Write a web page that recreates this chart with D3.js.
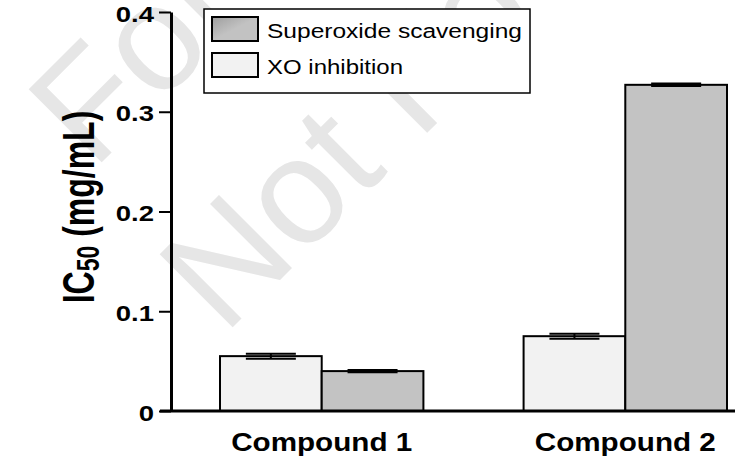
<!DOCTYPE html>
<html>
<head>
<meta charset="utf-8">
<script src="https://cdn.jsdelivr.net/npm/d3@7"></script>
<style>
  body { margin: 0; background: #fff; }
  svg { display: block; }
</style>
</head>
<body>
<svg id="chart" width="735" height="459"></svg>
<script>
// data
var categories = ["Compound 1", "Compound 2"];
var seriesNames = ["XO inhibition", "Superoxide scavenging"];
var xoValues = [0.055, 0.075];
var xoErrors = [0.0025, 0.0025];
var soValues = [0.040, 0.327];
var soErrors = [0.0012, 0.0012];
var yTicks = [0, 0.1, 0.2, 0.3, 0.4];
var legendOrder = ["Superoxide scavenging", "XO inhibition"];

var fills = { "XO inhibition": "#f2f2f2", "Superoxide scavenging": "#c3c3c3" };
var fontB = "'Liberation Sans', Arial, sans-serif";

var svg = d3.select("#chart");

var defs = svg.append("defs");
var grad = defs.append("linearGradient").attr("id", "swGrad")
  .attr("x1", 0).attr("y1", 0).attr("x2", 1).attr("y2", 1);
grad.append("stop").attr("offset", "0").attr("stop-color", "#9e9e9e");
grad.append("stop").attr("offset", "0.5").attr("stop-color", "#c2c2c2");

// watermark behind everything (cut by the picture edge, as in the reference)
var wm = svg.append("g").attr("class", "watermark")
  .style("font-family", fontB).style("font-size", "150px").attr("fill", "#e6e6e6");
wm.append("text").attr("transform", "translate(93,171) rotate(-45)").text("For");
wm.append("text").attr("transform", "translate(224,336) rotate(-45)").text("Not Fo");

var y = d3.scaleLinear().domain([0, 0.4]).range([411, 12]);

var x0 = d3.scaleBand().domain(categories).range([220, 727]).paddingInner(0.33).paddingOuter(0);
var x1 = d3.scaleBand().domain(seriesNames).range([0, x0.bandwidth()]);

// rows for bars
var rows = [];
categories.forEach(function(c, i){
  rows.push({ cat: c, name: "XO inhibition", value: xoValues[i], err: xoErrors[i] });
  rows.push({ cat: c, name: "Superoxide scavenging", value: soValues[i], err: soErrors[i] });
});

var bars = svg.append("g").attr("class", "bars");
bars.selectAll("rect").data(rows).enter().append("rect")
  .attr("x", function(d){ return x0(d.cat) + x1(d.name); })
  .attr("y", function(d){ return y(d.value); })
  .attr("width", x1.bandwidth())
  .attr("height", function(d){ return y(0) - y(d.value); })
  .attr("fill", function(d){ return fills[d.name]; })
  .attr("stroke", "#000").attr("stroke-width", 2);

// error bars
var capW = 50;
var errs = svg.append("g").attr("class", "errors").attr("stroke", "#000").attr("stroke-width", 2);
rows.forEach(function(d){
  var cx = x0(d.cat) + x1(d.name) + x1.bandwidth() / 2;
  var top = y(d.value + d.err), bot = y(d.value - d.err);
  errs.append("line").attr("x1", cx).attr("x2", cx).attr("y1", top).attr("y2", bot);
  [top, bot].forEach(function(yy){
    errs.append("line").attr("x1", cx - capW / 2).attr("x2", cx + capW / 2)
      .attr("y1", yy).attr("y2", yy);
  });
});

// y axis
var yAxis = d3.axisLeft(y).tickValues(yTicks).tickSize(12).tickSizeOuter(0).tickPadding(6)
  .tickFormat(function(d){ return d === 0 ? "0" : d3.format(".1f")(d); });
var gy = svg.append("g").attr("transform", "translate(171,0)").call(yAxis);
gy.select(".domain").attr("stroke", "#000").attr("stroke-width", 3);
gy.selectAll(".tick line").attr("stroke", "#000").attr("stroke-width", 2);
gy.selectAll(".tick text")
  .attr("x", 0).attr("dy", "9px")
  .attr("transform", "translate(-17,0) scale(1.25,1)")
  .style("font-family", fontB).style("font-weight", "bold").style("font-size", "22px")
  .attr("fill", "#000");

// baseline
svg.append("line").attr("x1", 160).attr("x2", 735).attr("y1", y(0)).attr("y2", y(0))
  .attr("stroke", "#000").attr("stroke-width", 3);

// category labels
svg.append("g").selectAll("text").data(categories).enter().append("text")
  .attr("x", function(d){ return x0(d) + x0.bandwidth() / 2; })
  .attr("y", 451)
  .attr("text-anchor", "middle")
  .attr("textLength", 181).attr("lengthAdjust", "spacingAndGlyphs")
  .style("font-family", fontB).style("font-weight", "bold").style("font-size", "26px")
  .text(function(d){ return d; });

// y label
var yl = svg.append("text")
  .attr("transform", "translate(94,207) rotate(-90) scale(1,1.37)")
  .attr("text-anchor", "middle")
  .style("font-family", fontB).style("font-weight", "bold").style("font-size", "32px");
yl.append("tspan").text("IC");
yl.append("tspan").attr("dy", 4).style("font-size", "23px").text("50");
yl.append("tspan").attr("dy", -4).text(" (mg/mL)");

// legend
var lg = svg.append("g").attr("class", "legend");
lg.append("rect").attr("x", 204).attr("y", 9).attr("width", 326).attr("height", 84)
  .attr("fill", "#fff").attr("stroke", "#000").attr("stroke-width", 1.5);
var textLens = { "Superoxide scavenging": 255, "XO inhibition": 136 };
legendOrder.forEach(function(name, i){
  var yy = 17 + i * 36;
  lg.append("rect").attr("x", 212).attr("y", yy).attr("width", 46).attr("height", 24)
    .attr("fill", name === "Superoxide scavenging" ? "url(#swGrad)" : fills[name])
    .attr("stroke", "#000").attr("stroke-width", 2);
  lg.append("text").attr("x", 267).attr("y", yy + 21)
    .attr("textLength", textLens[name]).attr("lengthAdjust", "spacingAndGlyphs")
    .style("font-family", fontB).style("font-size", "20px")
    .text(name);
});
</script>
</body>
</html>
